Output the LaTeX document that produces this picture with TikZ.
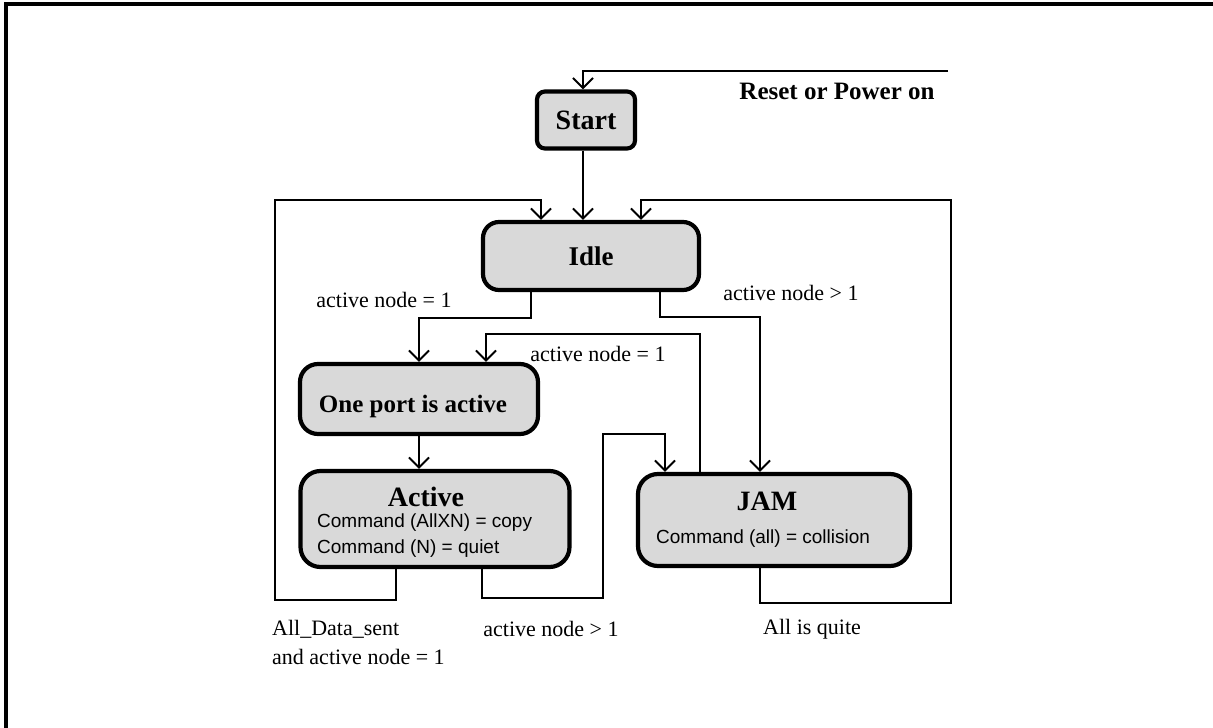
\documentclass[tikz,border=0pt]{standalone}
\usepackage{fontspec}
\setmainfont{Liberation Serif}
\newfontfamily\arialf{Liberation Sans}
\usetikzlibrary{arrows.meta}

\tikzset{
  statebox/.style={draw=black, fill=boxgray, line width=4.2pt, inner sep=0pt},
  conn/.style={line width=2pt, -{Straight Barb[length=10pt,width=20pt,line width=2pt]}},
  lbl/.style={inner sep=0pt, font=\fontsize{22}{26}\selectfont},
  cmd/.style={inner sep=0pt, anchor=west, font=\arialf\fontsize{19}{22}\selectfont},
}
\definecolor{boxgray}{HTML}{D9D9D9}

\begin{document}
\begin{tikzpicture}[x=1pt, y=-1pt]
\useasboundingbox (0,0) rectangle (1213,728);

% page frame (top and left edges)
\draw[line width=4pt] (6,728) -- (6,4) -- (1213,4);

% states
\node[statebox, rounded corners=8pt, minimum width=98pt, minimum height=57pt,
      font=\bfseries\fontsize{28}{32}\selectfont] (start) at (586,120) {Start};
\node[statebox, rounded corners=16pt, minimum width=216pt, minimum height=68pt,
      font=\bfseries\fontsize{27}{31}\selectfont] (idle) at (591,256) {Idle};
\node[statebox, rounded corners=18pt, minimum width=238pt, minimum height=70pt] (oneport) at (419,399) {};
\node[inner sep=0pt, font=\bfseries\fontsize{25}{29}\selectfont] (onetxt) at (413,406) {One port is active};
\node[statebox, rounded corners=20pt, minimum width=269pt, minimum height=96pt] (active) at (435,519) {};
\node[statebox, rounded corners=20pt, minimum width=272pt, minimum height=92pt] (jam) at (774,520) {};

% state contents
\node[inner sep=0pt, font=\bfseries\fontsize{28}{32}\selectfont] (acttitle) at (426,497) {Active};
\node[cmd] (actc1) at (317,523) {Command (AllXN) = copy};
\node[cmd] (actc2) at (317,549) {Command (N) = quiet};
\node[inner sep=0pt, font=\bfseries\fontsize{28}{32}\selectfont] (jamtitle) at (767,501) {JAM};
\node[cmd] (jamc1) at (656,539) {Command (all) = collision};

% free ends and bends of the loops
\coordinate (rst) at (948,71);
\coordinate (lb) at (275,600);
\coordinate (lt) at (275,200);
\coordinate (rb) at (951,603);
\coordinate (rt) at (951,200);
\coordinate (mb) at (603,598);
\coordinate (mt) at (603,434);

% transitions
\draw[conn] (rst) -| ([xshift=-3pt]start.north);
\draw[conn] ([xshift=-3pt]start.south) -- ([xshift=-8pt]idle.north);
\draw[conn] ([xshift=-39pt]active.south) |- (lb) -- (lt) -| ([xshift=-50pt]idle.north);
\draw[conn] ([xshift=-14pt]jam.south) |- (rb) -- (rt) -| ([xshift=50pt]idle.north);
\draw[conn] ([xshift=-60pt]idle.south) -- ++(0,26) -| (oneport.north);
\draw[conn] ([xshift=69pt]idle.south) -- ++(0,25) -| ([xshift=-14pt]jam.north);
\draw[conn] ([xshift=-74pt]jam.north) -- ++(0,-138) -| ([xshift=67pt]oneport.north);
\draw[conn] (oneport.south) -- (oneport.south |- active.north);
\draw[conn] ([xshift=47pt]active.south) |- (mb) -- (mt) -| ([xshift=-109pt]jam.north);

% transition labels
\node[inner sep=0pt, font=\bfseries\fontsize{25}{29}\selectfont] (reset) at (837,91) {Reset or Power on};
\node[lbl] (l1) at (384,300) {active node = 1};
\node[lbl] (l2) at (598,354) {active node = 1};
\node[lbl] (l3) at (791,293) {active node > 1};
\node[lbl, anchor=west] (l4) at (272,629) {All\_Data\_sent};
\node[lbl, anchor=west] (l5) at (272,657) {and active node = 1};
\node[lbl] (l6) at (551,629) {active node > 1};
\node[lbl, anchor=west] (l7) at (763,629) {All is quite};
\end{tikzpicture}
\end{document}
